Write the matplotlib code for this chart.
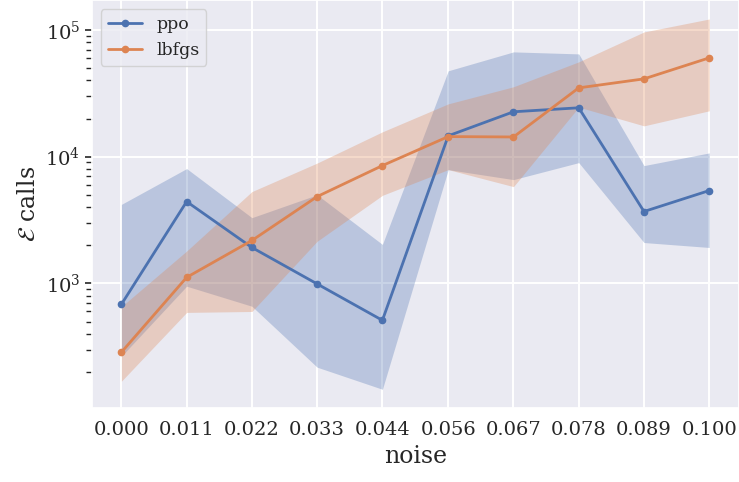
import numpy as np
import matplotlib
matplotlib.use("Agg")
import matplotlib.pyplot as plt
import seaborn as sns

noise = [0.0, 0.0111, 0.0222, 0.0333, 0.0444, 0.0556, 0.0667, 0.0778, 0.0889, 0.1]
tick_labels = ["0.000", "0.011", "0.022", "0.033", "0.044",
               "0.056", "0.067", "0.078", "0.089", "0.100"]

ppo_mean = [683, 4420, 1920, 990, 511, 14600, 22600, 24300, 3690, 5400]
ppo_lo = [266, 950, 660, 218, 146, 7900, 6590, 8970, 2100, 1920]
ppo_hi = [4200, 8050, 3300, 5000, 2030, 47600, 67100, 64700, 8500, 10700]

lbfgs_mean = [286, 1115, 2180, 4840, 8500, 14400, 14300, 34900, 41100, 60200]
lbfgs_lo = [169, 590, 600, 2150, 4950, 7900, 5800, 24600, 17500, 23000]
lbfgs_hi = [655, 1800, 5300, 8900, 15700, 26100, 35600, 56000, 96400, 122000]

sns.set_theme(style="darkgrid")
plt.rcParams['font.family'] = ['DejaVu Serif']
plt.rcParams['mathtext.fontset'] = 'dejavuserif'
plt.rcParams['grid.linewidth'] = 1.4

colors = sns.color_palette("deep")

fig, ax = plt.subplots(figsize=(7.39, 4.82), dpi=100)
fig.subplots_adjust(left=0.1245, right=0.9995, top=0.999, bottom=0.154)

for name, mean, lo, hi, c in [("ppo", ppo_mean, ppo_lo, ppo_hi, colors[0]),
                              ("lbfgs", lbfgs_mean, lbfgs_lo, lbfgs_hi, colors[1])]:
    ax.plot(noise, mean, marker="o", markersize=4.5, lw=2, color=c, label=name)
    ax.fill_between(noise, lo, hi, color=c, alpha=0.3, lw=0)

ax.set_yscale("log")
ax.set_xticks(noise)
ax.set_xticklabels(tick_labels)
ax.tick_params(axis="x", labelsize=14)
ax.tick_params(axis="y", which="major", labelsize=14, left=True, length=5, width=1.2, color=".15")
ax.tick_params(axis="y", which="minor", left=True, length=4, width=1.0, color=".15")
ax.set_xlabel("noise", fontsize=17)
ax.set_ylabel(r"$\mathcal{E}$ calls", fontsize=17)
ax.legend(loc="upper left", fontsize=12.5)

fig.savefig("out.png", dpi=100)
